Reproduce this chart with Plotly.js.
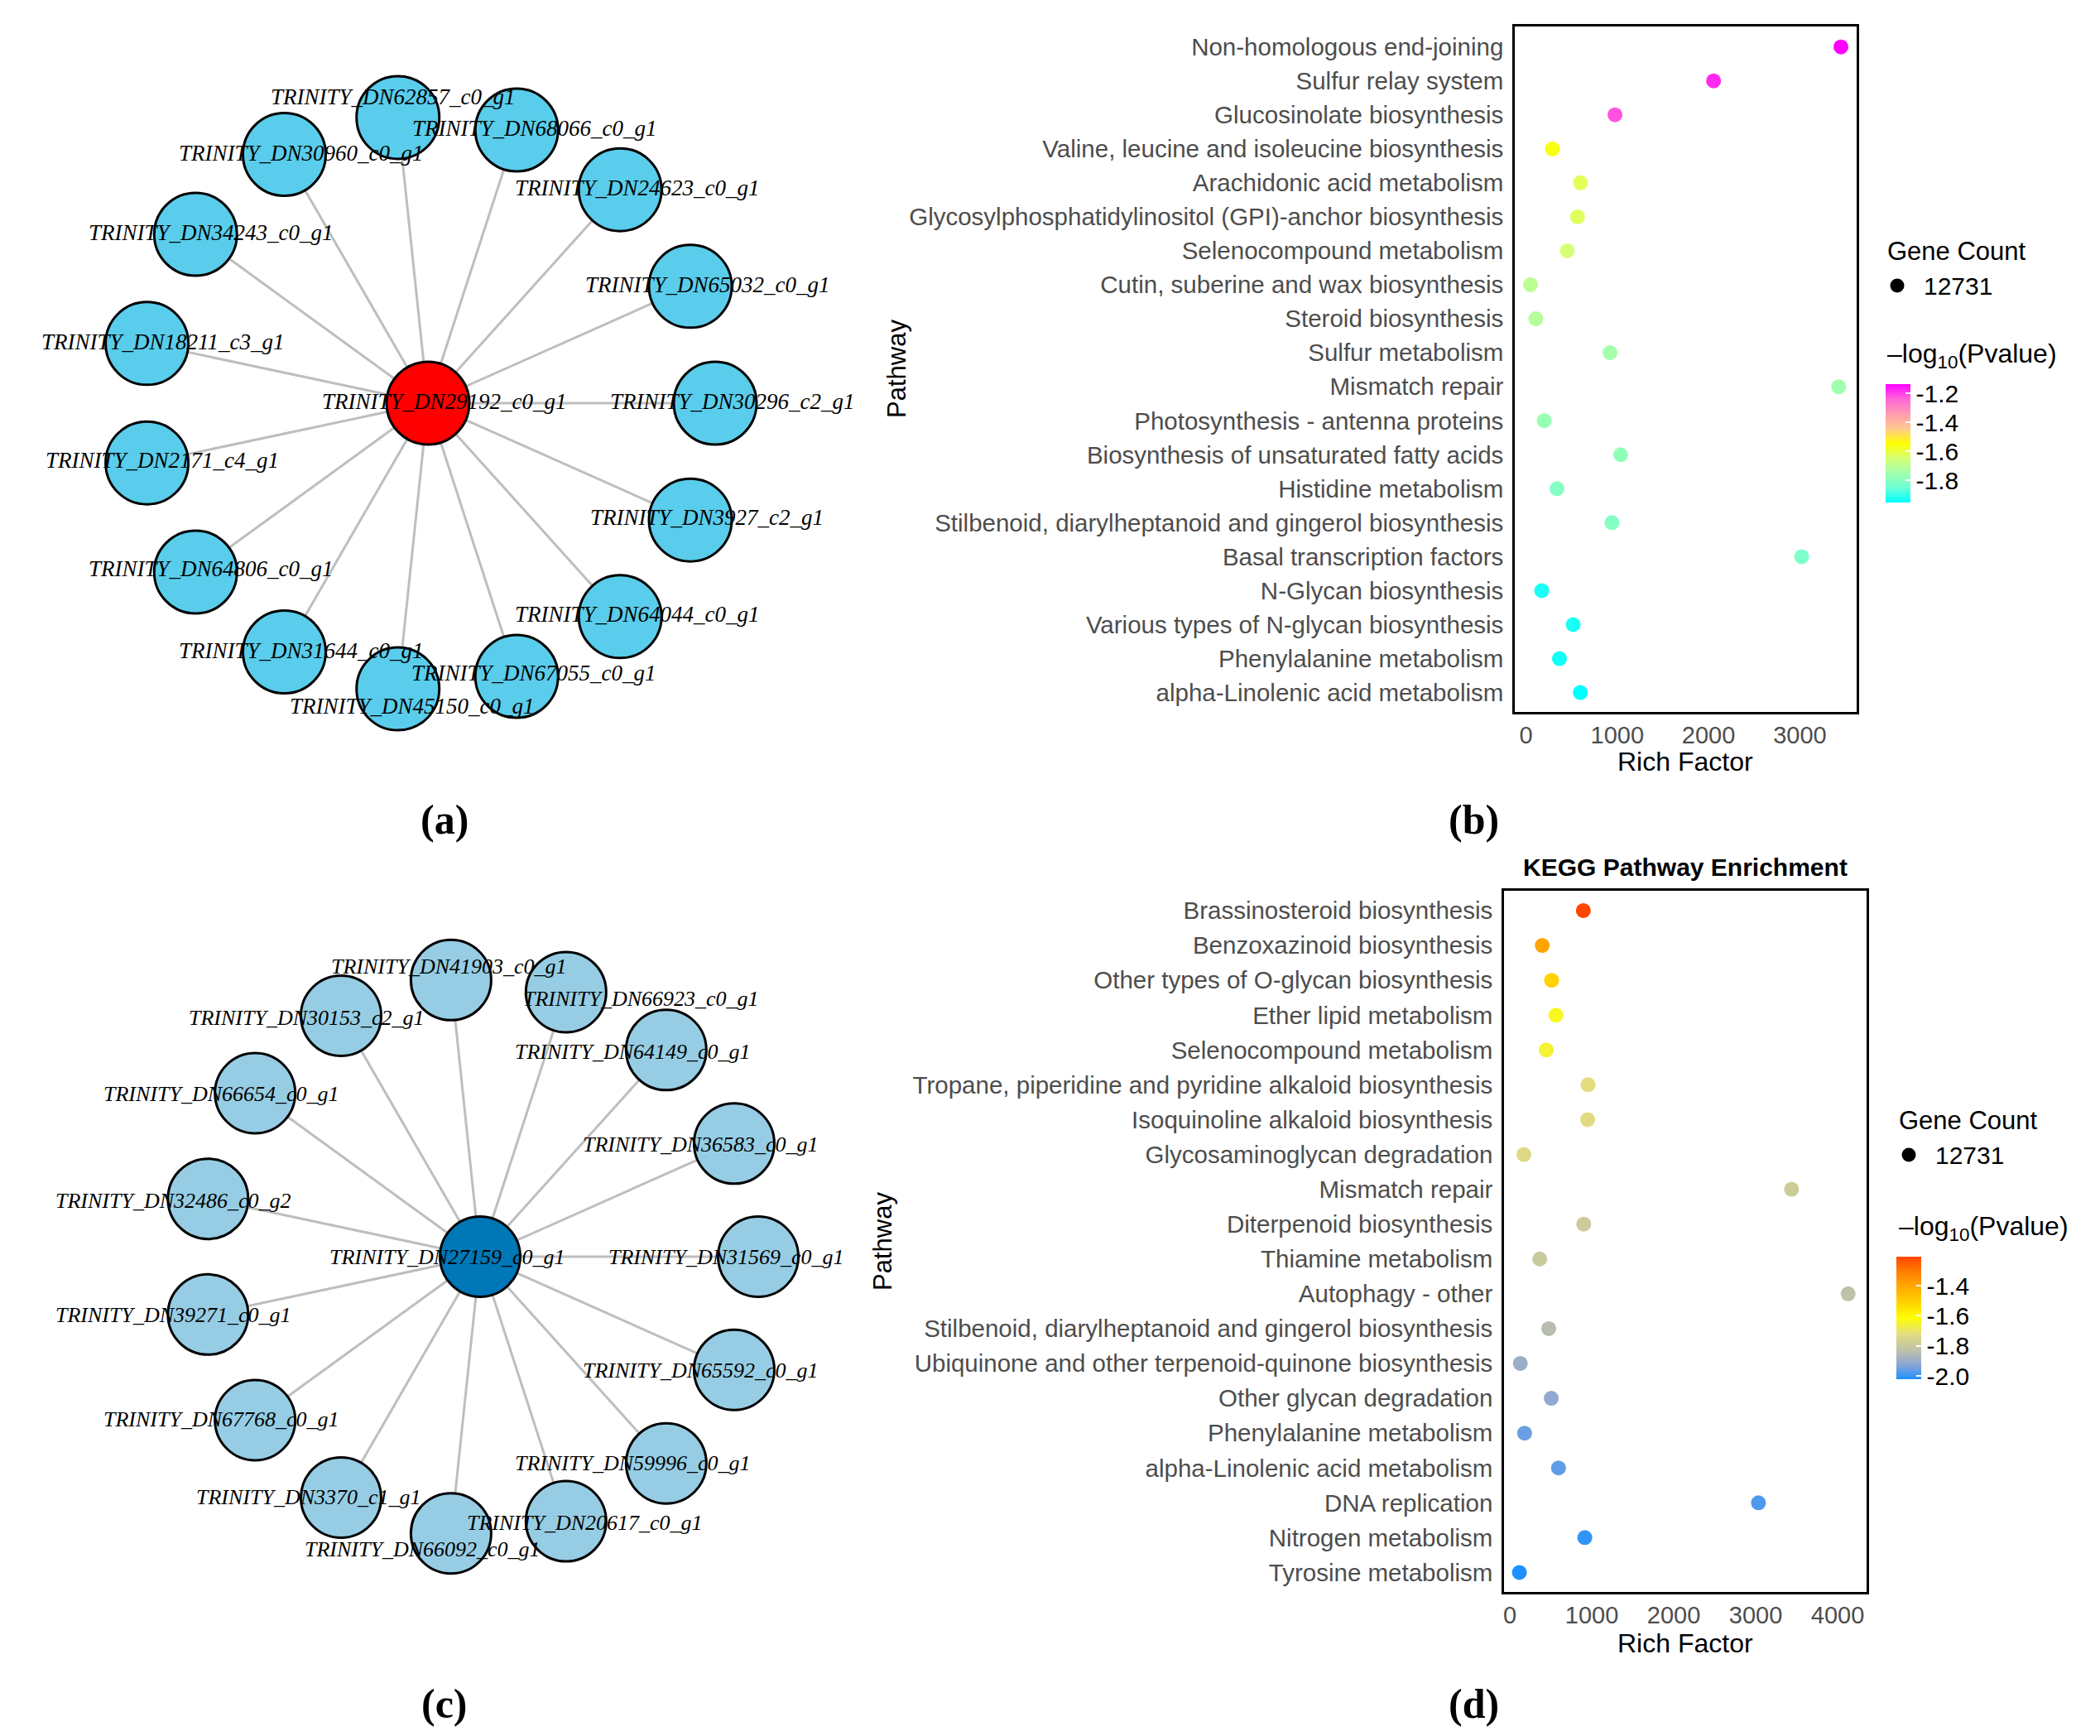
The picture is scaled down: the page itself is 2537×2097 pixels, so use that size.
<!DOCTYPE html>
<html><head><meta charset="utf-8">
<script src="https://cdn.plot.ly/plotly-3.0.1.min.js"></script>
<style>html,body{margin:0;padding:0;background:#fff;}#chart{width:2537px;height:2097px;}</style>
</head><body><div id="chart"></div>
<script>
// ---------------- data ----------------
const hubA = "TRINITY_DN29192_c0_g1";
const genesA = ["TRINITY_DN30296_c2_g1","TRINITY_DN65032_c0_g1","TRINITY_DN24623_c0_g1","TRINITY_DN68066_c0_g1","TRINITY_DN62857_c0_g1","TRINITY_DN30960_c0_g1","TRINITY_DN34243_c0_g1","TRINITY_DN18211_c3_g1","TRINITY_DN2171_c4_g1","TRINITY_DN64806_c0_g1","TRINITY_DN31644_c0_g1","TRINITY_DN45150_c0_g1","TRINITY_DN67055_c0_g1","TRINITY_DN64044_c0_g1","TRINITY_DN3927_c2_g1"];
const hubC = "TRINITY_DN27159_c0_g1";
const genesC = ["TRINITY_DN31569_c0_g1","TRINITY_DN36583_c0_g1","TRINITY_DN64149_c0_g1","TRINITY_DN66923_c0_g1","TRINITY_DN41903_c0_g1","TRINITY_DN30153_c2_g1","TRINITY_DN66654_c0_g1","TRINITY_DN32486_c0_g2","TRINITY_DN39271_c0_g1","TRINITY_DN67768_c0_g1","TRINITY_DN3370_c1_g1","TRINITY_DN66092_c0_g1","TRINITY_DN20617_c0_g1","TRINITY_DN59996_c0_g1","TRINITY_DN65592_c0_g1"];

const pathwaysB = ["Non-homologous end-joining","Sulfur relay system","Glucosinolate biosynthesis","Valine, leucine and isoleucine biosynthesis","Arachidonic acid metabolism","Glycosylphosphatidylinositol (GPI)-anchor biosynthesis","Selenocompound metabolism","Cutin, suberine and wax biosynthesis","Steroid biosynthesis","Sulfur metabolism","Mismatch repair","Photosynthesis - antenna proteins","Biosynthesis of unsaturated fatty acids","Histidine metabolism","Stilbenoid, diarylheptanoid and gingerol biosynthesis","Basal transcription factors","N-Glycan biosynthesis","Various types of N-glycan biosynthesis","Phenylalanine metabolism","alpha-Linolenic acid metabolism"];
const richB = [3450,2055,975,290,597,565,452,50,108,920,3425,200,1037,340,942,3020,173,517,367,595];
const pvalB = [-1.137,-1.178,-1.22,-1.562,-1.62,-1.627,-1.652,-1.70,-1.717,-1.75,-1.758,-1.774,-1.783,-1.807,-1.807,-1.823,-1.93,-1.93,-1.94,-1.954];

const pathwaysD = ["Brassinosteroid biosynthesis","Benzoxazinoid biosynthesis","Other types of O-glycan biosynthesis","Ether lipid metabolism","Selenocompound metabolism","Tropane, piperidine and pyridine alkaloid biosynthesis","Isoquinoline alkaloid biosynthesis","Glycosaminoglycan degradation","Mismatch repair","Diterpenoid biosynthesis","Thiamine metabolism","Autophagy - other","Stilbenoid, diarylheptanoid and gingerol biosynthesis","Ubiquinone and other terpenoid-quinone biosynthesis","Other glycan degradation","Phenylalanine metabolism","alpha-Linolenic acid metabolism","DNA replication","Nitrogen metabolism","Tyrosine metabolism"];
const richD = [897,396,510,563,445,955,950,172,3438,902,365,4129,475,128,506,180,594,3034,915,117];
const pvalD = [-1.207,-1.40,-1.51,-1.64,-1.655,-1.72,-1.73,-1.737,-1.786,-1.794,-1.80,-1.826,-1.84,-1.90,-1.916,-1.956,-1.965,-1.98,-2.005,-2.022];

const geneCount = "12731";
const ticksB = [0,1000,2000,3000];
const ticksD = [0,1000,2000,3000,4000];
const cbTicksB = [-1.8,-1.6,-1.4,-1.2];
const cbTicksD = [-2.0,-1.8,-1.6,-1.4];

// ---------------- layout helpers ----------------
const W = 2537, H = 2097;
const px = v => v / W, py = v => 1 - v / H;

// label offsets (pixels: right, down) for hub then ring nodes
const offA = [[20,-2],[21,-2],[21,-2],[21,-2],[22,-2],[-6,-25],[20,-1],[19,-2],[19,-2],[18,-3],[19,-4],[20,-2],[17,21],[21,-4],[21,-3],[20,-3]];
const offC = [[-40,0],[-39,0],[-40,1],[-40,2],[91,8],[-2,-16],[-42,2],[-41,1],[-42,2],[-42,1],[-41,-1],[-39,0],[-34,19],[23,2],[-40,0],[-40,1]];

function starLayout(n) {
  const xs = [0], ys = [0];
  for (let i = 0; i < n; i++) { const a = 2 * Math.PI * i / n; xs.push(Math.cos(a)); ys.push(Math.sin(a)); }
  return {xs, ys};
}
function netAxes(x0, x1, y0, y1, cx, cy, r, xn, yn) {
  return {
    xa: {domain:[px(x0), px(x1)], range:[(x0-cx)/r, (x1-cx)/r], visible:false, fixedrange:true, anchor:yn},
    ya: {domain:[py(y1), py(y0)], range:[(cy-y1)/r, (cy-y0)/r], visible:false, fixedrange:true, anchor:xn}
  };
}

const traces = [], annotations = [], shapes = [];
const labelFont = {family:"Liberation Serif, Times New Roman, serif", size:27, color:"#000"};

function addNetwork(hub, genes, lay, xa, ya, hubColor, nodeColor, size, offs, fsize) {
  const ex = [], ey = [];
  for (let i = 1; i < lay.xs.length; i++) { ex.push(lay.xs[0], lay.xs[i], null); ey.push(lay.ys[0], lay.ys[i], null); }
  traces.push({type:"scatter", mode:"lines", x:ex, y:ey, xaxis:xa, yaxis:ya, line:{color:"#BEBEBE", width:3}, hoverinfo:"skip", showlegend:false});
  const names = [hub].concat(genes);
  traces.push({type:"scatter", mode:"markers", x:lay.xs, y:lay.ys, xaxis:xa, yaxis:ya, text:names, hoverinfo:"text", showlegend:false,
    marker:{size:size, color:names.map((_, i) => i === 0 ? hubColor : nodeColor), line:{color:"#000", width:3}, opacity:1}});
  names.forEach((nm, i) => {
    annotations.push({xref:xa, yref:ya, x:lay.xs[i], y:lay.ys[i], text:"<i>" + nm + "</i>", showarrow:false,
      xanchor:"center", yanchor:"middle", xshift:offs[i][0], yshift:-offs[i][1], font:Object.assign({}, labelFont, {size:fsize})});
  });
}

const netA = netAxes(0, 1060, 0, 1040, 517, 487, 347, "x3", "y3");
const netC = netAxes(0, 1060, 1060, 2097, 580, 1518, 336, "x4", "y4");
addNetwork(hubA, genesA, starLayout(genesA.length), "x3", "y3", "#FF0000", "#59CDEB", 100, offA, 27);
addNetwork(hubC, genesC, starLayout(genesC.length), "x4", "y4", "#0077B6", "#96CDE4", 97, offC, 26);

const csB = [[0,"#00FFFF"],[0.125,"#6CFFD6"],[0.25,"#A4FFAA"],[0.375,"#D6FF74"],[0.5,"#FFFF00"],[0.625,"#FFC890"],[0.75,"#FF9CB0"],[0.875,"#FF66D8"],[1,"#FF00FF"]];
const csD = [[0,"#1E90FF"],[0.125,"#91A8D2"],[0.25,"#C3C4A5"],[0.375,"#E4DE7D"],[0.5,"#FFFF00"],[0.625,"#FFD400"],[0.75,"#FFAA00"],[0.875,"#FF7F00"],[1,"#FF4500"]];

const tickFont = {family:"Liberation Sans, Arial, sans-serif", size:29, color:"#4D4D4D"};
const catFont = {family:"Liberation Sans, Arial, sans-serif", size:29.5, color:"#4D4D4D"};
const cbFont = {family:"Liberation Sans, Arial, sans-serif", size:30, color:"#000"};
const fmt = v => v.toFixed(1);

function dotTrace(x, y, c, cs, xa, ya, cbx, cbTop, cbLen, cbTicks) {
  return {type:"scatter", mode:"markers", x:x, y:y, xaxis:xa, yaxis:ya, showlegend:false,
    hovertemplate:"%{y}<br>Rich Factor: %{x}<br>-log10(Pvalue): %{marker.color}<extra></extra>",
    marker:{size:18, color:c, colorscale:cs, cmin:Math.min(...c), cmax:Math.max(...c), line:{width:0},
      colorbar:{x:px(cbx), xanchor:"left", y:py(cbTop), yanchor:"top", lenmode:"pixels", len:cbLen, thickness:30,
        xpad:0, ypad:0, outlinewidth:0, tickvals:cbTicks, ticktext:cbTicks.map(fmt), ticks:"inside", ticklen:6,
        tickcolor:"#FFFFFF", tickwidth:1.5, tickfont:cbFont}}};
}
traces.push(dotTrace(richB, pathwaysB, pvalB, csB, "x", "y", 2278, 464, 143, cbTicksB));
traces.push(dotTrace(richD, pathwaysD, pvalD, csD, "x2", "y2", 2291, 1518, 148, cbTicksD));

function dotX(x0, x1, zero, per1000, ticks, yn) {
  return {domain:[px(x0), px(x1)], anchor:yn, range:[(x0-zero)/per1000*1000, (x1-zero)/per1000*1000], tickvals:ticks, ticktext:ticks.map(String),
    showgrid:false, zeroline:false, showline:true, mirror:true, linecolor:"#000", linewidth:2.5,
    ticks:"outside", ticklen:0, tickcolor:"rgba(0,0,0,0)", tickfont:tickFont, fixedrange:true};
}
function dotY(y0, y1, cats, lo, hi, xn) {
  return {domain:[py(y1), py(y0)], anchor:xn, type:"category", categoryorder:"array", categoryarray:cats, range:[cats.length - 1 + hi, -lo],
    showgrid:false, zeroline:false, showline:true, mirror:true, linecolor:"#000", linewidth:2.5,
    ticks:"outside", ticklen:5, tickcolor:"rgba(0,0,0,0)", tickfont:catFont, fixedrange:true};
}

const axTitle = {family:"Liberation Sans, Arial, sans-serif", size:32, color:"#000"};
function addDotLabels(cx, titleY, pathX, pathY, legX, legTop, logY) {
  annotations.push({xref:"paper", yref:"paper", x:px(cx), y:py(titleY), text:"Rich Factor", showarrow:false, xanchor:"center", yanchor:"middle", font:axTitle});
  annotations.push({xref:"paper", yref:"paper", x:px(pathX), y:py(pathY), text:"Pathway", textangle:-90, showarrow:false, xanchor:"center", yanchor:"middle", font:Object.assign({}, axTitle, {size:31})});
  annotations.push({xref:"paper", yref:"paper", x:px(legX), y:py(legTop), text:"Gene Count", showarrow:false, xanchor:"left", yanchor:"middle", font:Object.assign({}, axTitle, {size:31})});
  annotations.push({xref:"paper", yref:"paper", x:px(legX + 44), y:py(legTop + 42), text:geneCount, showarrow:false, xanchor:"left", yanchor:"middle", font:Object.assign({}, axTitle, {size:30})});
  shapes.push({type:"circle", xref:"paper", yref:"paper", xsizemode:"pixel", ysizemode:"pixel", xanchor:px(legX + 14), yanchor:py(legTop + 42),
    x0:-8.5, x1:8.5, y0:-8.5, y1:8.5, fillcolor:"#000", line:{width:0}});
  annotations.push({xref:"paper", yref:"paper", x:px(legX), y:py(logY), text:"\u2013log<sub>10</sub>(Pvalue)", showarrow:false, xanchor:"left", yanchor:"middle", font:Object.assign({}, axTitle, {size:32})});
}
addDotLabels(2036, 920, 1084, 446, 2278, 303, 430);
addDotLabels(2036, 1985, 1066, 1500, 2292, 1353, 1483);

const letterFont = {family:"Liberation Serif, Times New Roman, serif", size:50, color:"#000", weight:"bold"};
[["(a)",537,990],["(b)",1780,990],["(c)",537,2058],["(d)",1780,2058]].forEach(l => {
  annotations.push({xref:"paper", yref:"paper", x:px(l[1]), y:py(l[2]), text:"<b>" + l[0] + "</b>", showarrow:false, xanchor:"center", yanchor:"middle", font:letterFont});
});

const layout = {
  width:W, height:H, margin:{l:0, r:0, t:0, b:0}, paper_bgcolor:"#fff", plot_bgcolor:"rgba(0,0,0,0)",
  font:{family:"Liberation Sans, Arial, sans-serif"}, showlegend:false,
  title:{text:"<b>KEGG Pathway Enrichment</b>", x:px(2036), y:py(1047), xref:"paper", yref:"paper", xanchor:"center", yanchor:"middle",
    font:{family:"Liberation Sans, Arial, sans-serif", size:30, color:"#000"}},
  xaxis:dotX(1830, 2243, 1843.5, 110.3, ticksB, "y"),
  yaxis:dotY(32, 860, pathwaysB, 0.6, 0.57, "x"),
  xaxis2:dotX(1817, 2255, 1824, 99, ticksD, "y2"),
  yaxis2:dotY(1076, 1923, pathwaysD, 0.57, 0.56, "x2"),
  xaxis3:netA.xa, yaxis3:netA.ya, xaxis4:netC.xa, yaxis4:netC.ya,
  annotations:annotations, shapes:shapes, hovermode:"closest"
};
Plotly.newPlot("chart", traces, layout, {displayModeBar:false});
</script></body></html>
